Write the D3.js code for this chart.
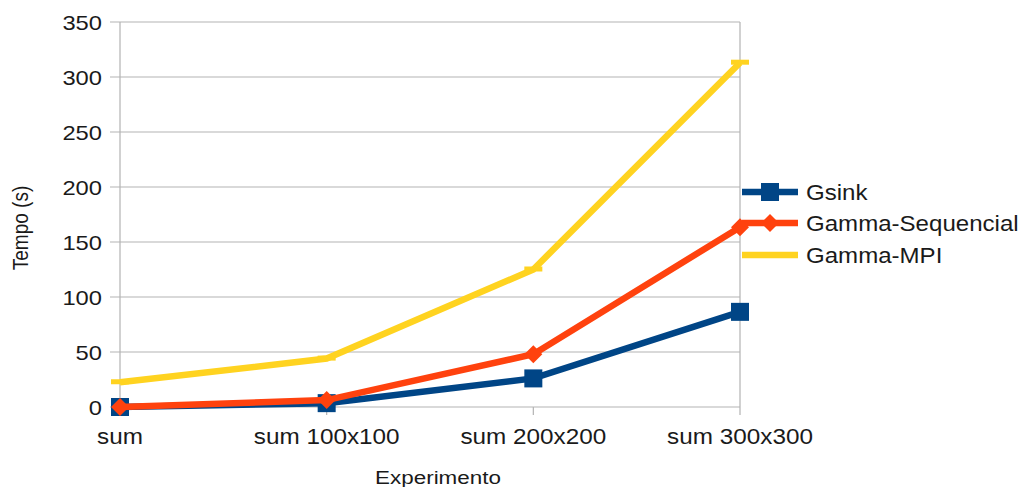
<!DOCTYPE html>
<html>
<head>
<meta charset="utf-8">
<script src="https://cdn.jsdelivr.net/npm/d3@7"></script>
<style>
  html, body { margin: 0; padding: 0; background: #fff; }
  svg { display: block; font-family: "Liberation Sans", Arial, sans-serif; }
</style>
</head>
<body>
<svg id="chart" width="1022" height="487"></svg>
<script>
// Experiment categories and timings in seconds
const categories = ["sum", "sum 100x100", "sum 200x200", "sum 300x300"];
const gsink = [0, 3.5, 26, 86.5];
const gammaSequencial = [0, 6.3, 48, 163.5];
const gammaMPI = [22.5, 44, 125, 313];
const seriesNames = ["Gsink", "Gamma-Sequencial", "Gamma-MPI"];
const yTicks = [0, 50, 100, 150, 200, 250, 300, 350];

const colors = ["#004586", "#ff420e", "#ffd320"];
const markers = ["square", "diamond", "dash"];
const seriesValues = [gsink, gammaSequencial, gammaMPI];

const svg = d3.select("#chart");
const plot = { left: 120, right: 740, top: 22, bottom: 407 };
const stretch = 1.13;
const gridColor = "#b3b3b3";
const textColor = "#1a1a1a";

const x = d3.scalePoint().domain(categories).range([plot.left, plot.right]);
const y = d3.scaleLinear().domain([0, 350]).range([plot.bottom, plot.top]);

// horizontal grid lines
svg.append("g")
  .selectAll("line")
  .data(yTicks)
  .join("line")
  .attr("x1", plot.left - 10).attr("x2", plot.right)
  .attr("y1", d => y(d)).attr("y2", d => y(d))
  .attr("stroke", gridColor).attr("stroke-width", 1.2);

// plot frame sides
svg.append("line").attr("x1", plot.left).attr("x2", plot.left)
  .attr("y1", plot.top).attr("y2", plot.bottom)
  .attr("stroke", gridColor).attr("stroke-width", 1.2);
svg.append("line").attr("x1", plot.right).attr("x2", plot.right)
  .attr("y1", plot.top).attr("y2", plot.bottom)
  .attr("stroke", gridColor).attr("stroke-width", 1.2);

// y tick labels
svg.append("g")
  .selectAll("text")
  .data(yTicks)
  .join("text")
  .attr("transform", d => `translate(102,${y(d) + 7.5}) scale(${stretch},1)`)
  .attr("text-anchor", "end")
  .attr("font-size", 21)
  .attr("fill", textColor)
  .text(d => d);

// x tick marks and labels
svg.append("g")
  .selectAll("line")
  .data(categories)
  .join("line")
  .attr("x1", d => x(d)).attr("x2", d => x(d))
  .attr("y1", plot.bottom).attr("y2", plot.bottom + 8)
  .attr("stroke", gridColor).attr("stroke-width", 1.2);

svg.append("g")
  .selectAll("text")
  .data(categories)
  .join("text")
  .attr("transform", d => `translate(${x(d)},444) scale(${stretch},1)`)
  .attr("text-anchor", "middle")
  .attr("font-size", 21.5)
  .attr("fill", textColor)
  .text(d => d);

// axis titles
svg.append("text")
  .attr("transform", `translate(438,484) scale(1.18,1)`)
  .attr("text-anchor", "middle")
  .attr("font-size", 19)
  .attr("fill", textColor)
  .text("Experimento");

svg.append("text")
  .attr("transform", `translate(28,228) scale(${stretch},1) rotate(-90)`)
  .attr("text-anchor", "middle")
  .attr("font-size", 19)
  .attr("fill", textColor)
  .text("Tempo (s)");

function drawMarker(g, type, cx, cy, color) {
  if (type === "square") {
    g.append("rect").attr("x", cx - 9).attr("y", cy - 9)
      .attr("width", 18).attr("height", 18).attr("fill", color);
  } else if (type === "diamond") {
    g.append("path")
      .attr("d", `M${cx},${cy - 9}L${cx + 9},${cy}L${cx},${cy + 9}L${cx - 9},${cy}Z`)
      .attr("fill", color);
  } else {
    g.append("rect").attr("x", cx - 9).attr("y", cy - 3)
      .attr("width", 18).attr("height", 5).attr("fill", color);
  }
}

const line = d3.line().x((d, i) => x(categories[i])).y(d => y(d));

seriesValues.forEach((vals, s) => {
  const g = svg.append("g");
  g.append("path")
    .attr("d", line(vals))
    .attr("fill", "none")
    .attr("stroke", colors[s])
    .attr("stroke-width", 6.5)
    .attr("stroke-linejoin", "miter");
  vals.forEach((v, i) => drawMarker(g, markers[s], x(categories[i]), y(v), colors[s]));
});

// legend
const legendY = [192, 223, 255];
seriesNames.forEach((name, s) => {
  const g = svg.append("g");
  const ly = legendY[s];
  g.append("line").attr("x1", 742).attr("x2", 798)
    .attr("y1", ly).attr("y2", ly)
    .attr("stroke", colors[s]).attr("stroke-width", 6.5);
  if (markers[s] !== "dash") drawMarker(g, markers[s], 770, ly, colors[s]);
  g.append("text")
    .attr("transform", `translate(806,${ly + 8}) scale(${stretch},1)`)
    .attr("font-size", 21.3)
    .attr("fill", textColor)
    .text(name);
});
</script>
</body>
</html>
